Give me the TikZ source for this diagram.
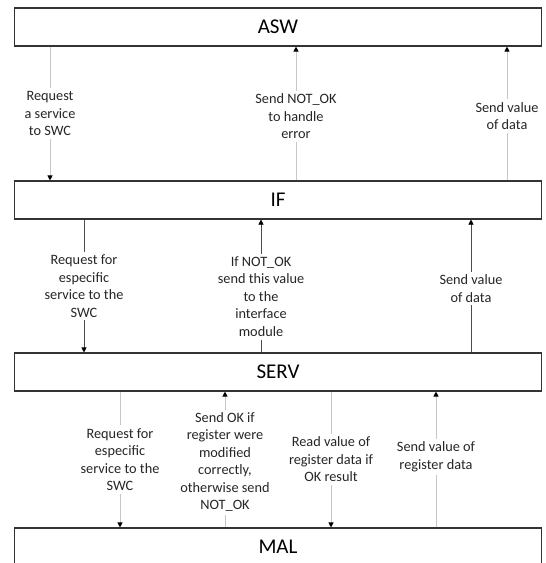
\documentclass[tikz,border=0pt]{standalone}
\usepackage{fontspec}
\setmainfont{Carlito}
\usetikzlibrary{arrows.meta}
\begin{document}
\begin{tikzpicture}[x=1pt, y=-1pt,
  every node/.style={font=\fontsize{14.3}{17.5}\selectfont},
  layer/.style={draw=black!80, line width=1.1pt, fill=white, minimum width=527pt, minimum height=38pt, inner sep=0pt, font=\fontsize{21}{24}\selectfont},
  msg/.style={fill=white, text=black!85, align=center, inner sep=3pt},
  flow/.style={gray!45, line width=0.9pt, -{Triangle[black,width=5pt,length=5pt]}},
  flowdark/.style={black!70, line width=0.6pt, -{Triangle[black,width=5pt,length=5pt]}}]
\useasboundingbox (0,0) rectangle (546,563);
% layers
\node[layer] (asw) at (278,27) {ASW};
\node[layer] (if) at (278,200) {IF};
\node[layer] (serv) at (278,372) {SERV};
\node[layer] (mal) at (278,547) {MAL};
% ASW <-> IF
\draw[flow] (asw.south -| 50,0) -- (if.north -| 50,0) node[msg,pos=0.5] (m1) {Request\\a service\\to SWC};
\draw[flow] (if.north -| 296,0) -- (asw.south -| 296,0) node[msg,pos=0.48] (m2) {Send NOT\_OK\\to handle\\error};
\draw[flow] (if.north -| 507,0) -- (asw.south -| 507,0) node[msg,pos=0.48] (m3) {Send value\\of data};
% IF <-> SERV
\draw[flowdark] (if.south -| 84,0) -- (serv.north -| 84,0) node[msg,pos=0.5] (m4) {Request for\\especific\\service to the\\SWC};
\draw[flowdark] (serv.north -| 261,0) -- (if.south -| 261,0) node[msg,pos=0.42] (m5) {If NOT\_OK\\send this value\\to the\\interface\\module};
\draw[flowdark] (serv.north -| 471,0) -- (if.south -| 471,0) node[msg,pos=0.48] (m6) {Send value\\of data};
% SERV <-> MAL
\draw[flow] (serv.south -| 120,0) -- (mal.north -| 120,0) node[msg,pos=0.5] (m7) {Request for\\especific\\service to the\\SWC};
\draw[flow] (mal.north -| 225,0) -- (serv.south -| 225,0) node[msg,pos=0.48] (m8) {Send OK if\\register were\\modified\\correctly,\\otherwise send\\NOT\_OK};
\draw[flow] (serv.south -| 331,0) -- (mal.north -| 331,0) node[msg,pos=0.5] (m9) {Read value of\\register data if\\OK result};
\draw[flow] (mal.north -| 436,0) -- (serv.south -| 436,0) node[msg,pos=0.52] (m10) {Send value of\\register data};
\end{tikzpicture}
\end{document}
